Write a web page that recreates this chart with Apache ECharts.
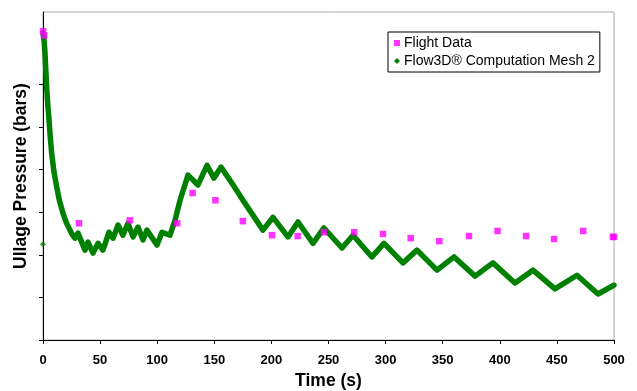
<!DOCTYPE html>
<html>
<head>
<meta charset="utf-8">
<script src="https://cdn.jsdelivr.net/npm/echarts@6/dist/echarts.min.js"></script>
<style>html,body{margin:0;padding:0;background:#fff;}#c{width:637px;height:391px;}</style>
</head>
<body>
<div id="c"></div>
<script>
// Time (s) and ullage pressure (relative units, one unit per y tick)
var flightTime = [0, 1, 31.5, 76, 117.5, 131, 151, 175, 200.5, 223, 246, 272.5, 297.7, 322, 347, 373, 398, 423, 447.5, 473, 499, 500];
var flightPressure = [7.25, 7.15, 2.74, 2.81, 2.74, 3.45, 3.28, 2.79, 2.46, 2.44, 2.53, 2.53, 2.49, 2.39, 2.32, 2.44, 2.56, 2.44, 2.37, 2.56, 2.42, 2.42];

var cfdTime = [0, 0.9, 1.75, 2.5, 3.2, 4.2, 5.3, 6.4, 7.6, 9.6, 12, 14.5, 17.5, 20.5, 23.6, 26, 28, 30.6, 36.8, 39.4, 43.8, 48.2, 52.5, 57.8, 61.3, 65.7, 70, 74.4, 78.8, 83.2, 87.6, 91, 99.8, 104.2, 111.2, 115.6, 120, 127, 135.7, 143.6, 149.7, 155.9, 165.5, 175.1, 192.6, 201.4, 214.5, 223.3, 236.4, 246, 261.8, 271.5, 288, 298.6, 315.2, 327.5, 345, 360, 378.3, 394, 413.3, 429, 448.3, 467.6, 486, 500];
var cfdPressure = [7.20, 7.04, 6.73, 6.32, 5.94, 5.52, 5.16, 4.75, 4.38, 3.95, 3.59, 3.26, 2.98, 2.75, 2.58, 2.46, 2.39, 2.51, 2.11, 2.30, 2.04, 2.27, 2.11, 2.53, 2.39, 2.70, 2.46, 2.74, 2.42, 2.65, 2.35, 2.58, 2.23, 2.53, 2.46, 2.81, 3.28, 3.87, 3.64, 4.10, 3.80, 4.06, 3.68, 3.28, 2.58, 2.88, 2.42, 2.77, 2.27, 2.63, 2.16, 2.46, 1.95, 2.27, 1.81, 2.11, 1.64, 1.95, 1.50, 1.81, 1.34, 1.64, 1.20, 1.52, 1.08, 1.29];

var cfdOutlierTime = [0];
var cfdOutlierPressure = [2.25];

var xTicks = [0, 50, 100, 150, 200, 250, 300, 350, 400, 450, 500];
var yTicks = [0, 1, 2, 3, 4, 5, 6];

function zip(a, b) { return a.map(function (v, i) { return [v, b[i]]; }); }

var FLIGHT = 'Flight Data';
var CFD = 'Flow3D\u00AE Computation Mesh 2';

var chart = echarts.init(document.getElementById('c'), null, { renderer: 'canvas' });
chart.setOption({
  animation: false,
  backgroundColor: '#fff',
  textStyle: { fontFamily: 'Liberation Sans, Arial, sans-serif' },
  grid: { left: 43, right: 23, top: 12, bottom: 51, show: true, borderColor: '#a8a8a8', borderWidth: 1, containLabel: false, outerBoundsMode: 'none' },
  legend: {
    orient: 'vertical',
    left: 388, top: 32,
    padding: [4, 5, 4, 6],
    itemGap: 4,
    itemWidth: 6, itemHeight: 6,
    borderColor: '#000', borderWidth: 1,
    textStyle: { fontSize: 14, color: '#000', fontFamily: 'Liberation Sans, Arial, sans-serif', padding: [0, 0, 0, -1] },
    data: [{ name: FLIGHT, icon: 'rect' }, { name: CFD, icon: 'diamond' }]
  },
  xAxis: {
    type: 'value', min: 0, max: 500, interval: 50,
    name: 'Time (s)', nameLocation: 'middle', nameGap: 32,
    nameTextStyle: { fontSize: 17.5, fontWeight: 'bold', color: '#000' },
    axisLine: { onZero: false, lineStyle: { color: '#000', width: 1 } },
    axisTick: { show: true, length: 4, lineStyle: { color: '#000' } },
    axisLabel: { fontSize: 13, fontWeight: 'bold', color: '#000', margin: 14, customValues: xTicks },
    splitLine: { show: false }
  },
  yAxis: {
    type: 'value', min: 0, max: 7.7,
    name: 'Ullage Pressure (bars)', nameLocation: 'middle', nameGap: 13,
    nameTextStyle: { fontSize: 17.5, fontWeight: 'bold', color: '#000' },
    axisLine: { show: true, onZero: false, lineStyle: { color: '#000', width: 1 } },
    axisTick: { show: true, length: 4, customValues: yTicks, lineStyle: { color: '#000' } },
    axisLabel: { show: false },
    splitLine: { show: false }
  },
  series: [
    {
      name: CFD, type: 'line', data: zip(cfdTime, cfdPressure),
      showSymbol: false, symbol: 'diamond', color: '#008000',
      lineStyle: { color: '#008000', width: 5.5, join: 'round', cap: 'round' },
      z: 2
    },
    {
      name: CFD, type: 'scatter', data: zip(cfdOutlierTime, cfdOutlierPressure),
      symbol: 'diamond', symbolSize: 6, itemStyle: { color: '#008000' }, z: 2
    },
    {
      name: FLIGHT, type: 'scatter', data: zip(flightTime, flightPressure),
      symbol: 'rect', symbolSize: 6.5, itemStyle: { color: '#ff00ff' }, z: 3
    }
  ]
});
</script>
</body>
</html>
